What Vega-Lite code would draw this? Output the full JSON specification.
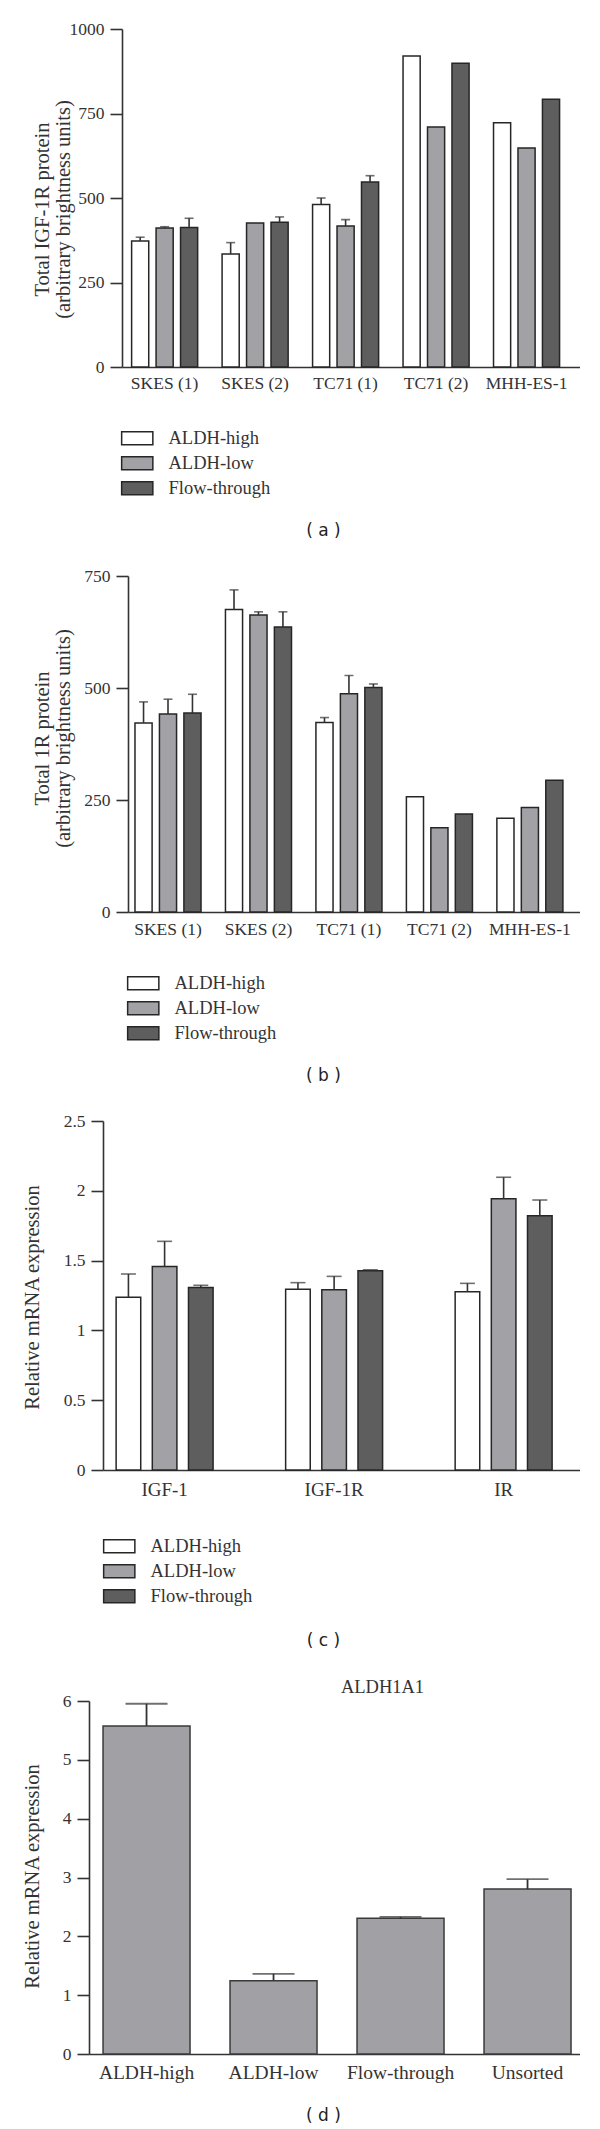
{
  "$schema": "https://vega.github.io/schema/vega-lite/v6.json",
  "background": "white",
  "padding": {"left": 22, "top": 20, "right": 0, "bottom": 0},
  "columns": 1,
  "align": {"row": "none", "column": "all"},
  "spacing": 29,
  "datasets": {
    "a": [
      {"line": "SKES (1)", "group": "ALDH-high", "v": 373, "hi": 384},
      {"line": "SKES (1)", "group": "ALDH-low", "v": 411, "hi": 415},
      {"line": "SKES (1)", "group": "Flow-through", "v": 413, "hi": 440},
      {"line": "SKES (2)", "group": "ALDH-high", "v": 334, "hi": 368},
      {"line": "SKES (2)", "group": "ALDH-low", "v": 426, "hi": null},
      {"line": "SKES (2)", "group": "Flow-through", "v": 428, "hi": 444},
      {"line": "TC71 (1)", "group": "ALDH-high", "v": 481, "hi": 500},
      {"line": "TC71 (1)", "group": "ALDH-low", "v": 417, "hi": 436},
      {"line": "TC71 (1)", "group": "Flow-through", "v": 547, "hi": 566},
      {"line": "TC71 (2)", "group": "ALDH-high", "v": 920, "hi": null},
      {"line": "TC71 (2)", "group": "ALDH-low", "v": 710, "hi": null},
      {"line": "TC71 (2)", "group": "Flow-through", "v": 899, "hi": null},
      {"line": "MHH-ES-1", "group": "ALDH-high", "v": 723, "hi": null},
      {"line": "MHH-ES-1", "group": "ALDH-low", "v": 648, "hi": null},
      {"line": "MHH-ES-1", "group": "Flow-through", "v": 792, "hi": null}
    ],
    "b": [
      {"line": "SKES (1)", "group": "ALDH-high", "v": 422, "hi": 469},
      {"line": "SKES (1)", "group": "ALDH-low", "v": 442, "hi": 475},
      {"line": "SKES (1)", "group": "Flow-through", "v": 444, "hi": 486},
      {"line": "SKES (2)", "group": "ALDH-high", "v": 675, "hi": 719},
      {"line": "SKES (2)", "group": "ALDH-low", "v": 663, "hi": 670},
      {"line": "SKES (2)", "group": "Flow-through", "v": 636, "hi": 670},
      {"line": "TC71 (1)", "group": "ALDH-high", "v": 423, "hi": 434},
      {"line": "TC71 (1)", "group": "ALDH-low", "v": 487, "hi": 528},
      {"line": "TC71 (1)", "group": "Flow-through", "v": 501, "hi": 509},
      {"line": "TC71 (2)", "group": "ALDH-high", "v": 257, "hi": null},
      {"line": "TC71 (2)", "group": "ALDH-low", "v": 188, "hi": null},
      {"line": "TC71 (2)", "group": "Flow-through", "v": 219, "hi": null},
      {"line": "MHH-ES-1", "group": "ALDH-high", "v": 209, "hi": null},
      {"line": "MHH-ES-1", "group": "ALDH-low", "v": 233, "hi": null},
      {"line": "MHH-ES-1", "group": "Flow-through", "v": 294, "hi": null}
    ],
    "c": [
      {"gene": "IGF-1", "group": "ALDH-high", "v": 1.238, "hi": 1.404},
      {"gene": "IGF-1", "group": "ALDH-low", "v": 1.458, "hi": 1.638},
      {"gene": "IGF-1", "group": "Flow-through", "v": 1.307, "hi": 1.323},
      {"gene": "IGF-1R", "group": "ALDH-high", "v": 1.295, "hi": 1.342},
      {"gene": "IGF-1R", "group": "ALDH-low", "v": 1.292, "hi": 1.387},
      {"gene": "IGF-1R", "group": "Flow-through", "v": 1.427, "hi": 1.434},
      {"gene": "IR", "group": "ALDH-high", "v": 1.276, "hi": 1.337},
      {"gene": "IR", "group": "ALDH-low", "v": 1.943, "hi": 2.097},
      {"gene": "IR", "group": "Flow-through", "v": 1.822, "hi": 1.934}
    ],
    "d": [
      {"group": "ALDH-high", "v": 5.577, "hi": 5.953},
      {"group": "ALDH-low", "v": 1.243, "hi": 1.363},
      {"group": "Flow-through", "v": 2.307, "hi": 2.331},
      {"group": "Unsorted", "v": 2.803, "hi": 2.971}
    ]
  },
  "concat": [
    {
      "width": 491,
      "height": 338,
      "data": {"name": "a"},
      "encoding": {
        "x": {
          "field": "line", "type": "nominal", "sort": null,
          "scale": {"range": [33, 491], "paddingInner": 0.27, "paddingOuter": 0.166, "align": 0.32},
          "axis": {"title": "( a )", "titleFont": "DejaVu Sans", "titleFontSize": 17, "titleColor": "#222", "titleX": 234, "titleY": 163, "titleBaseline": "middle", "titleAlign": "center", "titleAngle": 0, "ticks": false, "tickSize": 0, "labelAngle": 0, "labelPadding": 7.5, "labelFontSize": 17.5}
        },
        "xOffset": {"field": "group", "type": "nominal", "sort": null, "scale": {"paddingInner": 0.3, "paddingOuter": 0}}
      },
      "layer": [
        {
          "mark": {"type": "bar", "stroke": "#262626", "strokeWidth": 1.5},
          "encoding": {
            "y": {"field": "v", "type": "quantitative", "scale": {"domain": [0, 1000], "nice": false},
              "axis": {"offset": -33, "values": [0, 250, 500, 750, 1000], "format": "d", "title": ["Total IGF-1R protein", "(arbitrary brightness units)"], "titleX": -79.5, "titleY": 180, "titleBaseline": "middle", "titleAlign": "center", "titleAngle": -90, "titleLineHeight": 21, "labelPadding": 6}},
            "color": {"field": "group", "type": "nominal", "sort": null, "title": null,
              "scale": {"domain": ["ALDH-high", "ALDH-low", "Flow-through"], "range": ["#ffffff", "#a2a2a6", "#5e5e5e"]},
              "legend": {"orient": "none", "legendX": 39, "legendY": 400}}
          }
        },
        {
          "transform": [{"filter": "datum.hi != null"}],
          "mark": {"type": "rule", "color": "#333", "strokeWidth": 1.6},
          "encoding": {"y": {"field": "v", "type": "quantitative",
              "axis": {"offset": -33, "values": [0, 250, 500, 750, 1000], "format": "d", "title": ["Total IGF-1R protein", "(arbitrary brightness units)"], "titleX": -79.5, "titleY": 180, "titleBaseline": "middle", "titleAlign": "center", "titleAngle": -90, "titleLineHeight": 21, "labelPadding": 6}},
            "y2": {"field": "hi"}}
        },
        {
          "transform": [{"filter": "datum.hi != null"}],
          "mark": {"type": "tick", "orient": "horizontal", "color": "#333", "size": 9, "thickness": 1.6},
          "encoding": {"y": {"field": "hi", "type": "quantitative",
              "axis": {"offset": -33, "values": [0, 250, 500, 750, 1000], "format": "d", "title": ["Total IGF-1R protein", "(arbitrary brightness units)"], "titleX": -79.5, "titleY": 180, "titleBaseline": "middle", "titleAlign": "center", "titleAngle": -90, "titleLineHeight": 21, "labelPadding": 6}}}
        }
      ]
    },
    {
      "width": 491,
      "height": 336,
      "data": {"name": "b"},
      "encoding": {
        "x": {
          "field": "line", "type": "nominal", "sort": null,
          "scale": {"range": [39, 491], "paddingInner": 0.27, "paddingOuter": 0.133, "align": 0.29},
          "axis": {"title": "( b )", "titleFont": "DejaVu Sans", "titleFontSize": 17, "titleColor": "#222", "titleX": 234, "titleY": 163, "titleBaseline": "middle", "titleAlign": "center", "titleAngle": 0, "ticks": false, "tickSize": 0, "labelAngle": 0, "labelPadding": 8.5, "labelFontSize": 17.5}
        },
        "xOffset": {"field": "group", "type": "nominal", "sort": null, "scale": {"paddingInner": 0.3, "paddingOuter": 0}}
      },
      "layer": [
        {
          "mark": {"type": "bar", "stroke": "#262626", "strokeWidth": 1.5},
          "encoding": {
            "y": {"field": "v", "type": "quantitative", "scale": {"domain": [0, 750], "nice": false},
              "axis": {"offset": -39, "values": [0, 250, 500, 750], "format": "d", "title": ["Total 1R protein", "(arbitrary brightness units)"], "titleX": -85.5, "titleY": 162, "titleBaseline": "middle", "titleAlign": "center", "titleAngle": -90, "titleLineHeight": 21, "labelPadding": 6}},
            "color": {"field": "group", "type": "nominal", "sort": null, "title": null,
              "scale": {"domain": ["ALDH-high", "ALDH-low", "Flow-through"], "range": ["#ffffff", "#a2a2a6", "#5e5e5e"]},
              "legend": {"orient": "none", "legendX": 45, "legendY": 398}}
          }
        },
        {
          "transform": [{"filter": "datum.hi != null"}],
          "mark": {"type": "rule", "color": "#333", "strokeWidth": 1.6},
          "encoding": {"y": {"field": "v", "type": "quantitative",
              "axis": {"offset": -39, "values": [0, 250, 500, 750], "format": "d", "title": ["Total 1R protein", "(arbitrary brightness units)"], "titleX": -85.5, "titleY": 162, "titleBaseline": "middle", "titleAlign": "center", "titleAngle": -90, "titleLineHeight": 21, "labelPadding": 6}},
            "y2": {"field": "hi"}}
        },
        {
          "transform": [{"filter": "datum.hi != null"}],
          "mark": {"type": "tick", "orient": "horizontal", "color": "#333", "size": 9, "thickness": 1.6},
          "encoding": {"y": {"field": "hi", "type": "quantitative",
              "axis": {"offset": -39, "values": [0, 250, 500, 750], "format": "d", "title": ["Total 1R protein", "(arbitrary brightness units)"], "titleX": -85.5, "titleY": 162, "titleBaseline": "middle", "titleAlign": "center", "titleAngle": -90, "titleLineHeight": 21, "labelPadding": 6}}}
        }
      ]
    },
    {
      "width": 491,
      "height": 349,
      "data": {"name": "c"},
      "encoding": {
        "x": {
          "field": "gene", "type": "nominal", "sort": null,
          "scale": {"range": [14, 491], "paddingInner": 0.428, "paddingOuter": 0.121, "align": 0.32},
          "axis": {"title": "( c )", "titleFont": "DejaVu Sans", "titleFontSize": 17, "titleColor": "#222", "titleX": 234, "titleY": 170, "titleBaseline": "middle", "titleAlign": "center", "titleAngle": 0, "ticks": false, "tickSize": 0, "labelAngle": 0, "labelPadding": 10, "labelFontSize": 19}
        },
        "xOffset": {"field": "group", "type": "nominal", "sort": null, "scale": {"paddingInner": 0.32, "paddingOuter": 0}}
      },
      "layer": [
        {
          "mark": {"type": "bar", "stroke": "#262626", "strokeWidth": 1.5},
          "encoding": {
            "y": {"field": "v", "type": "quantitative", "scale": {"domain": [0, 2.5], "nice": false},
              "axis": {"offset": -14, "values": [0, 0.5, 1, 1.5, 2, 2.5], "format": "~g", "title": "Relative mRNA expression", "titleX": -71, "titleY": 176, "titleBaseline": "middle", "titleAlign": "center", "titleAngle": -90, "labelPadding": 6}},
            "color": {"field": "group", "type": "nominal", "sort": null, "title": null,
              "scale": {"domain": ["ALDH-high", "ALDH-low", "Flow-through"], "range": ["#ffffff", "#a2a2a6", "#5e5e5e"]},
              "legend": {"orient": "none", "legendX": 21, "legendY": 416}}
          }
        },
        {
          "transform": [{"filter": "datum.hi != null"}],
          "mark": {"type": "rule", "color": "#333", "strokeWidth": 1.6},
          "encoding": {"y": {"field": "v", "type": "quantitative",
              "axis": {"offset": -14, "values": [0, 0.5, 1, 1.5, 2, 2.5], "format": "~g", "title": "Relative mRNA expression", "titleX": -71, "titleY": 176, "titleBaseline": "middle", "titleAlign": "center", "titleAngle": -90, "labelPadding": 6}},
            "y2": {"field": "hi"}}
        },
        {
          "transform": [{"filter": "datum.hi != null"}],
          "mark": {"type": "tick", "orient": "horizontal", "color": "#333", "size": 15, "thickness": 1.6},
          "encoding": {"y": {"field": "hi", "type": "quantitative",
              "axis": {"offset": -14, "values": [0, 0.5, 1, 1.5, 2, 2.5], "format": "~g", "title": "Relative mRNA expression", "titleX": -71, "titleY": 176, "titleBaseline": "middle", "titleAlign": "center", "titleAngle": -90, "labelPadding": 6}}}
        }
      ]
    },
    {
      "width": 491,
      "height": 353,
      "data": {"name": "d"},
      "title": {"text": "ALDH1A1", "orient": "top", "anchor": "middle", "frame": "group", "dx": 48, "font": "Liberation Serif", "fontSize": 18.5, "fontWeight": "normal", "color": "#333", "offset": -4},
      "encoding": {
        "x": {
          "field": "group", "type": "nominal", "sort": null,
          "scale": {"paddingInner": 0.315, "paddingOuter": 0.0906, "align": 0.61},
          "axis": {"title": "( d )", "titleFont": "DejaVu Sans", "titleFontSize": 17, "titleColor": "#222", "titleX": 234, "titleY": 61, "titleBaseline": "middle", "titleAlign": "center", "titleAngle": 0, "ticks": false, "tickSize": 0, "labelAngle": 0, "labelPadding": 9.5, "labelFontSize": 19.5}
        }
      },
      "layer": [
        {
          "mark": {"type": "bar", "fill": "#a1a1a5", "stroke": "#3a3a3a", "strokeWidth": 1.5},
          "encoding": {
            "y": {"field": "v", "type": "quantitative", "scale": {"domain": [0, 6], "nice": false},
              "axis": {"values": [0, 1, 2, 3, 4, 5, 6], "title": "Relative mRNA expression", "titleX": -57, "titleY": 175, "titleBaseline": "middle", "titleAlign": "center", "titleAngle": -90, "labelPadding": 6}}
          }
        },
        {
          "mark": {"type": "rule", "color": "#333", "strokeWidth": 1.8},
          "encoding": {"y": {"field": "v", "type": "quantitative",
              "axis": {"values": [0, 1, 2, 3, 4, 5, 6], "title": "Relative mRNA expression", "titleX": -57, "titleY": 175, "titleBaseline": "middle", "titleAlign": "center", "titleAngle": -90, "labelPadding": 6}},
            "y2": {"field": "hi"}}
        },
        {
          "mark": {"type": "tick", "orient": "horizontal", "color": "#333", "size": 42, "thickness": 1.8},
          "encoding": {"y": {"field": "hi", "type": "quantitative",
              "axis": {"values": [0, 1, 2, 3, 4, 5, 6], "title": "Relative mRNA expression", "titleX": -57, "titleY": 175, "titleBaseline": "middle", "titleAlign": "center", "titleAngle": -90, "labelPadding": 6}}}
        }
      ]
    }
  ],
  "resolve": {
    "scale": {"x": "independent", "y": "independent", "color": "independent", "xOffset": "independent"},
    "axis": {"x": "independent", "y": "independent"},
    "legend": {"color": "independent"}
  },
  "config": {
    "view": {"stroke": null},
    "axis": {"domainColor": "#333", "domainWidth": 1.6, "tickColor": "#333", "tickWidth": 1.6, "tickSize": 12, "labelFont": "Liberation Serif", "labelFontSize": 17.5, "labelColor": "#333", "titleFont": "Liberation Serif", "titleFontSize": 20.5, "titleFontWeight": "normal", "titleColor": "#333", "grid": false},
    "legend": {"symbolType": "M-2.4,-1H2.4V1H-2.4Z", "symbolSize": 169, "symbolStrokeColor": "#262626", "symbolStrokeWidth": 1.5, "symbolOpacity": 1, "labelFont": "Liberation Serif", "labelFontSize": 18.5, "labelColor": "#333", "labelOffset": 22, "rowPadding": 5, "padding": 0, "symbolOffset": 0, "labelLimit": 300}
  }
}
